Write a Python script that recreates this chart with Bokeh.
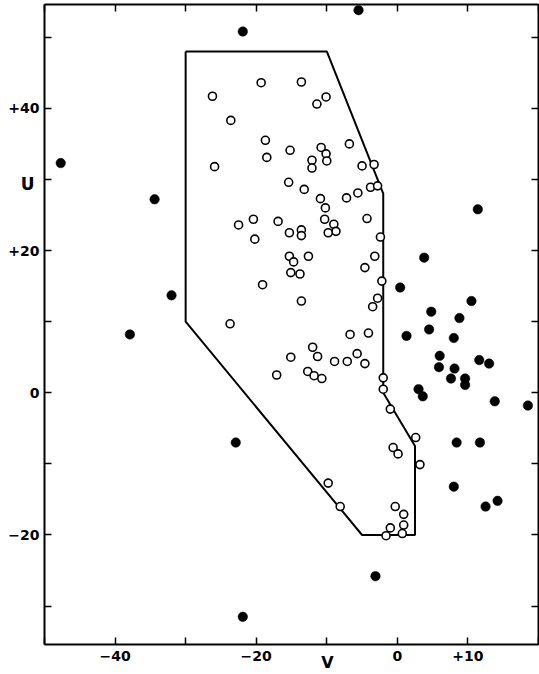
from bokeh.plotting import figure
from bokeh.models import LinearAxis, Range1d, Label, FixedTicker
from bokeh.embed import file_html
from bokeh.resources import INLINE

# open circles (V, U)
open_v = [-19.3, -26.2, -23.6, -18.7, -18.5, -25.9, -20.4, -22.5, -20.2, -19.1, -23.7,
          -15.2, -15.4, -13.6, -10.1, -11.4, -10.8, -10.1, -10.0, -12.1, -12.1, -6.8,
          -5.0, -3.3, -13.2, -10.9, -7.2, -5.6, -3.8, -2.8, -10.2, -16.9, -15.3, -13.6,
          -13.6, -10.3, -9.0, -8.7, -9.8, -4.3, -2.4, -15.3, -14.7, -15.1, -13.8, -12.6,
          -3.2, -4.6, -2.2, -13.6, -2.8, -3.5, -6.7, -4.1, -12.0, -11.3, -15.1, -5.7,
          -8.9, -7.1, -4.6, -17.1, -12.7, -11.8, -10.7, -2.0, -2.0, -1.0, 2.6, -0.6,
          0.1, 3.2, -9.8, -8.1, -0.3, 0.9, 0.9, -1.0, -1.6, 0.7]
open_u = [43.6, 41.7, 38.3, 35.5, 33.1, 31.8, 24.4, 23.6, 21.6, 15.2, 9.7,
          34.1, 29.6, 43.7, 41.6, 40.6, 34.5, 33.6, 32.6, 32.7, 31.6, 35.0,
          31.9, 32.1, 28.6, 27.3, 27.4, 28.1, 28.9, 29.1, 26.0, 24.1, 22.5, 22.9,
          22.1, 24.4, 23.7, 22.7, 22.5, 24.5, 21.9, 19.2, 18.4, 16.9, 16.7, 19.2,
          19.2, 17.6, 15.7, 12.9, 13.3, 12.1, 8.2, 8.4, 6.4, 5.1, 5.0, 5.5,
          4.4, 4.4, 4.1, 2.5, 3.0, 2.4, 2.0, 2.1, 0.5, -2.3, -6.3, -7.7,
          -8.6, -10.1, -12.7, -16.0, -16.0, -17.1, -18.6, -19.0, -20.1, -19.8]

# filled circles (V, U)
filled_v = [-21.9, -5.5, -47.7, -34.4, -32.0, -37.9, -22.9, -21.9, -3.1,
            11.4, 3.8, 0.4, 10.5, 4.8, 8.8, 1.3, 4.5, 8.0,
            6.0, 11.6, 13.0, 5.9, 8.1, 7.6, 9.6, 9.6, 3.0, 3.6, 13.8,
            18.5, 8.4, 11.7, 8.0, 14.2, 12.5]
filled_u = [50.8, 53.8, 32.3, 27.2, 13.7, 8.2, -7.0, -31.5, -25.8,
            25.8, 19.0, 14.8, 12.9, 11.4, 10.5, 8.0, 8.9, 7.7,
            5.2, 4.6, 4.1, 3.6, 3.4, 2.0, 2.0, 1.1, 0.5, -0.5, -1.2,
            -1.8, -7.0, -7.0, -13.2, -15.2, -16.0]

# boundary polygon
poly_v = [-30, -10, -2, -2, 2.5, 2.5, -5, -30]
poly_u = [48, 48, 28, 0, -7.5, -20, -20, 10]

x_ticks = [-50, -40, -30, -20, -10, 0, 10, 20]
x_tick_labels = {-40: "\u221240", -20: "\u221220", 0: "0", 10: "+10"}
y_ticks = [-30, -20, -10, 0, 10, 20, 30, 40, 50]
y_tick_labels = {-20: "\u221220", 0: "0", 20: "+20", 40: "+40"}

# plotted window (data) and its placement on the canvas
X_LO, X_HI = -50.0, 20.0
Y_LO, Y_HI = -35.4, 54.6
W, H = 539, 674
LEFT, RIGHT, TOP, BOTTOM = 44, 1, 4, 30
sx = (W - LEFT - RIGHT) / (X_HI - X_LO)
sy = (H - TOP - BOTTOM) / (Y_HI - Y_LO)

FONT = "DejaVu Sans"

p = figure(width=W, height=H, output_backend="svg", toolbar_location=None,
           x_range=Range1d(X_LO - LEFT / sx, X_HI + RIGHT / sx),
           y_range=Range1d(Y_LO - BOTTOM / sy, Y_HI + TOP / sy),
           x_axis_location=None, y_axis_location=None,
           min_border=0)
p.grid.visible = False
p.outline_line_color = None
p.background_fill_color = "white"
p.border_fill_color = "white"


def make_axis(ticks, labels, bounds, loc, show_labels, standoff):
    ax = LinearAxis(fixed_location=loc, bounds=bounds)
    ax.ticker = FixedTicker(ticks=ticks)
    ax.major_label_overrides = {t: labels.get(t, "") for t in ticks}
    ax.axis_line_color = "black"
    ax.axis_line_width = 2
    ax.major_tick_line_color = "black"
    ax.major_tick_line_width = 1.5
    ax.major_tick_in = 7
    ax.major_tick_out = 0
    ax.minor_tick_line_color = None
    ax.major_label_text_font = FONT
    ax.major_label_text_font_style = "bold"
    ax.major_label_text_color = "black"
    ax.major_label_text_font_size = "14px" if show_labels else "0px"
    ax.major_label_standoff = standoff
    return ax


p.add_layout(make_axis(x_ticks, x_tick_labels, (X_LO, X_HI), Y_LO, True, 6), "below")
p.add_layout(make_axis(y_ticks, y_tick_labels, (Y_LO, Y_HI), X_LO, True, 5), "left")
p.add_layout(make_axis(x_ticks, {}, (X_LO, X_HI), Y_HI, False, 0), "above")
p.add_layout(make_axis(y_ticks, {}, (Y_LO, Y_HI), X_HI, False, 0), "right")

# polygon boundary
p.line(poly_v + [poly_v[0]], poly_u + [poly_u[0]], line_color="black", line_width=2)

p.scatter(open_v, open_u, marker="circle", size=8, fill_color="white",
          line_color="black", line_width=1.6)
p.scatter(filled_v, filled_u, marker="circle", size=9.5, fill_color="black",
          line_color="black", line_width=0.5)

p.add_layout(Label(x=-52.4, y=29.4, text="U", text_align="center", text_baseline="middle",
                   text_font=FONT, text_font_style="bold", text_font_size="17px",
                   text_color="black"))
p.add_layout(Label(x=-9.9, y=-37.9, text="V", text_align="center", text_baseline="middle",
                   text_font=FONT, text_font_style="bold", text_font_size="16px",
                   text_color="black"))

open("out.html", "w").write(file_html(p, INLINE))
